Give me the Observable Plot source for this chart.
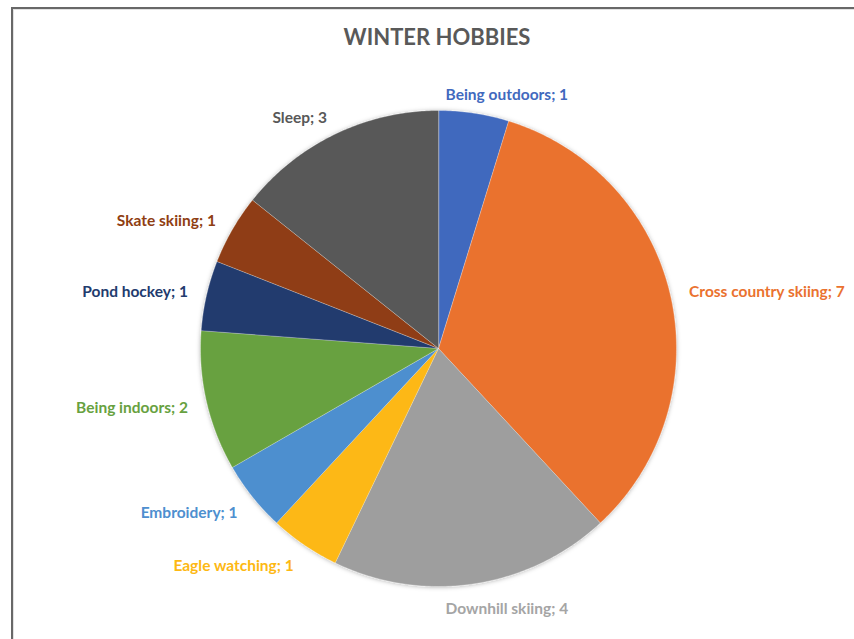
<!DOCTYPE html>
<html>
<head>
<meta charset="utf-8">
<script src="https://cdn.jsdelivr.net/npm/d3@7"></script>
<script src="https://cdn.jsdelivr.net/npm/@observablehq/plot@0.6"></script>
<style>
  html, body { margin: 0; padding: 0; background: #fff; }
  #page { position: relative; width: 854px; height: 639px; overflow: hidden; background: #fff; }
  #frame { position: absolute; left: 11px; top: 7px; right: -10px; bottom: -10px;
           border-left: 2px solid #686868; border-top: 2px solid #686868; }
  #frame-inner { position: absolute; left: 13px; top: 9px; right: -10px; bottom: -10px;
           border-left: 1px solid #e2e2e2; border-top: 1px solid #e2e2e2; }
  #title { position: absolute; left: 0; top: 24px; width: 874px; text-align: center;
           font-family: Lato, "Open Sans", sans-serif; font-weight: 700; font-size: 22px;
           color: #595959; line-height: 26px; }
  #chart { position: absolute; left: 0; top: 60px; }
  #chart text { font-family: Lato, "Open Sans", sans-serif; font-weight: 700; }
</style>
</head>
<body>
<div id="page">
  <div id="frame"></div>
  <div id="frame-inner"></div>
  <div id="title">WINTER HOBBIES</div>
  <div id="chart"></div>
</div>
<script>
// ---- data ----
const hobbies = ["Being outdoors", "Cross country skiing", "Downhill skiing", "Eagle watching",
                 "Embroidery", "Being indoors", "Pond hockey", "Skate skiing", "Sleep"];
const counts  = [1, 7, 4, 1, 1, 2, 1, 1, 3];
const sliceColors = ["#4169BE", "#EA722F", "#9E9E9E", "#FDB813", "#4E8FCF",
                     "#67A140", "#223B6E", "#8F3E12", "#585858"];
const labelColors = ["#4169BE", "#EA722F", "#A5A5A5", "#FDB813", "#4E8FCF",
                     "#67A140", "#223B6E", "#8F3E12", "#585858"];

// layout of the SVG: pie centre and radius in pixels; the projection domain
// is the whole SVG expressed in pie-radius units so nothing is clipped
const W = 854, H = 579, cx = 438, cy = 288, R = 238;
const domain = {type: "MultiPoint", coordinates: [[-cx / R, -(H - cy) / R], [(W - cx) / R, cy / R]]};

// ---- derived geometry (unit circle, angles from 12 o'clock clockwise) ----
const arcs = d3.pie().sort(null).value(d => d)(counts);
const slices = arcs.map((a, i) => {
  const n = Math.max(8, Math.ceil((a.endAngle - a.startAngle) / 0.01));
  const ring = [[0, 0]];
  for (let k = 0; k <= n; ++k) {
    const t = a.startAngle + (a.endAngle - a.startAngle) * k / n;
    ring.push([Math.sin(t), Math.cos(t)]);
  }
  ring.push([0, 0]);
  return {type: "Feature", properties: {name: hobbies[i]}, geometry: {type: "Polygon", coordinates: [ring]}};
});

const labelRadius = 1.08;
const labelRows = arcs.map((a, i) => {
  const m = (a.startAngle + a.endAngle) / 2;
  const s = Math.sin(m), c = Math.cos(m);
  const lowerShift = c < 0 ? (-c * 5) / R : 0; // labels below the centre sit a bit lower
  return {name: hobbies[i], text: `${hobbies[i]}; ${counts[i]}`,
          x: labelRadius * s, y: labelRadius * c - lowerShift,
          side: Math.abs(s) < 0.25 ? "middle" : (s > 0 ? "start" : "end")};
});

const textOpts = (anchor, extra = {}) => ({
  x: "x", y: "y", text: "text", textAnchor: anchor,
  fill: d => labelColors[hobbies.indexOf(d.name)], fontSize: 15.5, dy: 1, ...extra
});

const plot = Plot.plot({
  width: W, height: H,
  margin: 0,
  projection: {type: "reflect-y", domain},
  color: {domain: hobbies, range: sliceColors},
  marks: [
    Plot.geo(slices, {fill: d => d.properties.name, stroke: "white", strokeWidth: 0.3}),
    Plot.text(labelRows.filter(d => d.side === "start"), textOpts("start")),
    Plot.text(labelRows.filter(d => d.side === "end"), textOpts("end")),
    Plot.text(labelRows.filter(d => d.side === "middle"), textOpts("middle", {dx: 30}))
  ]
});

// soft shadow around the pie
const ns = "http://www.w3.org/2000/svg";
const defs = document.createElementNS(ns, "defs");
defs.innerHTML = '<filter id="pieShadow" x="-10%" y="-10%" width="120%" height="120%">' +
  '<feDropShadow dx="0" dy="0.5" stdDeviation="2" flood-color="#000" flood-opacity="0.3"/></filter>';
plot.insertBefore(defs, plot.firstChild);
const geoG = plot.querySelector('g[aria-label="geo"]');
if (geoG) geoG.setAttribute("filter", "url(#pieShadow)");

document.getElementById("chart").appendChild(plot);
</script>
</body>
</html>
